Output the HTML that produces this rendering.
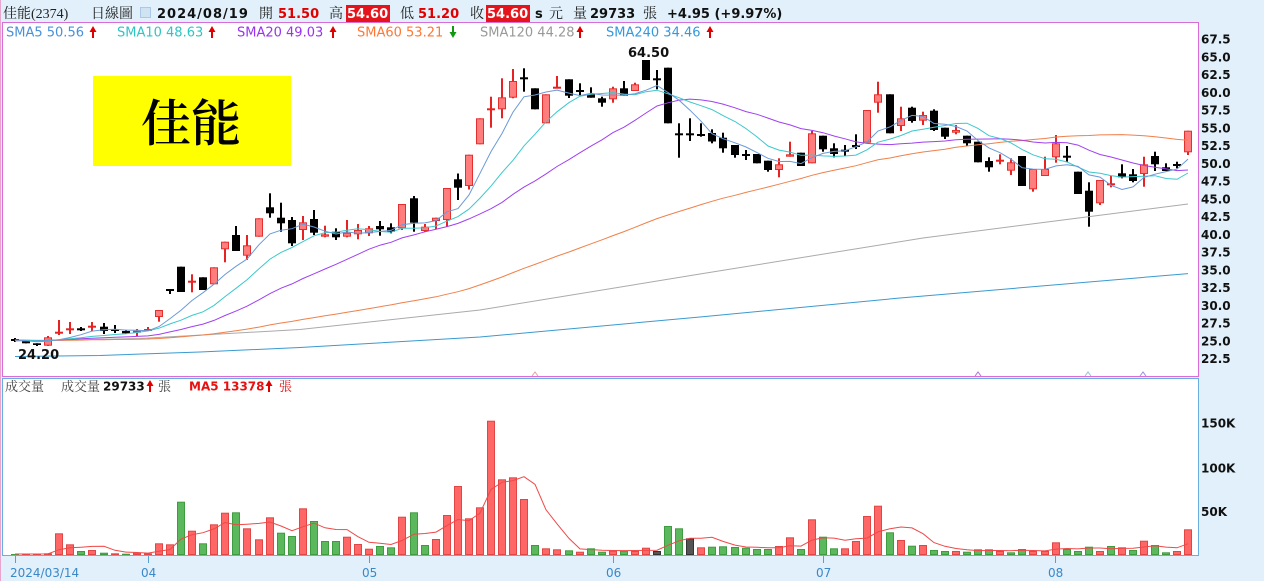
<!DOCTYPE html>
<html><head><meta charset="utf-8">
<style>
html,body{margin:0;padding:0;}
body{width:1264px;height:586px;overflow:hidden;background:#e1f0fa;position:relative;}
svg{position:absolute;left:0;top:0;}
.b{font-family:"DejaVu Sans","Liberation Sans",sans-serif;font-weight:bold;}
.n{font-family:"DejaVu Sans","Liberation Sans",sans-serif;}
.cj{font-family:"Liberation Serif","Noto Serif CJK SC",serif;}
</style></head><body>
<svg width="1264" height="586" xmlns="http://www.w3.org/2000/svg">
<rect x="0" y="0" width="1264" height="586" fill="#e1f0fa"/>
<rect x="0" y="581" width="1264" height="5" fill="#ffffff"/>
<line x1="0.5" y1="0" x2="0.5" y2="581" stroke="#e8a6cf" stroke-width="1"/>
<rect x="2" y="22" width="1197" height="355" fill="#ffffff"/>
<rect x="2" y="378" width="1197" height="178" fill="#ffffff"/>

<!-- yellow name box -->
<rect x="93" y="76" width="198" height="90" fill="#ffff00"/>
<text class="cj" x="191" y="141" font-size="50" font-weight="600" text-anchor="middle" fill="#000">佳能</text>

<g id="g"></g>

<rect x="2.5" y="22.5" width="1196" height="354" fill="none" stroke="#d86cd8" stroke-width="1"/>
<rect x="2.5" y="378.5" width="1196" height="177" fill="none" stroke="#6aaee0" stroke-width="1"/>

<!-- small markers on main bottom -->
<polyline points="532,376 535,372 538,376" fill="none" stroke="#e8a0a0" stroke-width="1"/>
<polyline points="975,376 978,372 981,376" fill="none" stroke="#b070e0" stroke-width="1"/>
<polyline points="1085,376 1088,372 1091,376" fill="none" stroke="#90c0e0" stroke-width="1"/>
<polyline points="1140,376 1143,372 1146,376" fill="none" stroke="#9a90e0" stroke-width="1"/>

<!-- header -->
<text class="cj" x="3" y="18" font-size="14" fill="#222">佳能(2374)</text>
<text class="cj" x="91" y="18" font-size="14" fill="#222">日線圖</text>
<rect x="140.5" y="7.5" width="10" height="10" fill="#cfe3f3" stroke="#a9c9e6"/>
<text class="b" x="157" y="18" font-size="13" letter-spacing="1" fill="#111">2024/08/19</text>
<text class="cj" x="259" y="18" font-size="14" fill="#222">開</text>
<text class="b" x="278" y="18" font-size="13" fill="#e00000">51.50</text>
<text class="cj" x="329" y="18" font-size="14" fill="#222">高</text>
<rect x="346" y="5" width="44" height="17" fill="#e5141c"/>
<text class="b" x="347" y="18" font-size="13" fill="#ffffff">54.60</text>
<text class="cj" x="400" y="18" font-size="14" fill="#222">低</text>
<text class="b" x="418" y="18" font-size="13" fill="#e00000">51.20</text>
<text class="cj" x="470" y="18" font-size="14" fill="#222">收</text>
<rect x="486" y="5" width="44" height="17" fill="#e5141c"/>
<text class="b" x="487" y="18" font-size="13" fill="#ffffff">54.60</text>
<text class="b" x="535" y="18" font-size="13" fill="#111">s</text>
<text class="cj" x="549" y="18" font-size="14" fill="#222">元</text>
<text class="cj" x="573" y="18" font-size="14" fill="#222">量</text>
<text class="b" x="590" y="18" font-size="13" fill="#111">29733</text>
<text class="cj" x="643" y="18" font-size="14" fill="#222">張</text>
<text class="b" x="667" y="18" font-size="13" fill="#111">+4.95 (+9.97%)</text>

<!-- legend -->
<text class="n" x="6" y="36.5" font-size="13" fill="#4a90d9">SMA5 50.56</text>
<text class="n" x="117" y="36.5" font-size="13" fill="#2fc4c4">SMA10 48.63</text>
<text class="n" x="237" y="36.5" font-size="13" fill="#9933ee">SMA20 49.03</text>
<text class="n" x="357" y="36.5" font-size="13" fill="#ff7733">SMA60 53.21</text>
<text class="n" x="480" y="36.5" font-size="13" fill="#999999">SMA120 44.28</text>
<text class="n" x="606" y="36.5" font-size="13" fill="#3399dd">SMA240 34.46</text>
<g id="arrows"></g>

<!-- price labels -->
<text class="b" x="628" y="57" font-size="13" fill="#111">64.50</text>
<text class="b" x="18" y="359" font-size="13" fill="#111">24.20</text>

<!-- y axis -->
<g class="b" font-size="12" fill="#111">
<text x="1201" y="43.5">67.5</text>
<text x="1201" y="61.3">65.0</text>
<text x="1201" y="79">62.5</text>
<text x="1201" y="96.8">60.0</text>
<text x="1201" y="114.5">57.5</text>
<text x="1201" y="132.3">55.0</text>
<text x="1201" y="150">52.5</text>
<text x="1201" y="167.8">50.0</text>
<text x="1201" y="185.5">47.5</text>
<text x="1201" y="203.3">45.0</text>
<text x="1201" y="221">42.5</text>
<text x="1201" y="238.8">40.0</text>
<text x="1201" y="256.5">37.5</text>
<text x="1201" y="274.3">35.0</text>
<text x="1201" y="292">32.5</text>
<text x="1201" y="309.8">30.0</text>
<text x="1201" y="327.5">27.5</text>
<text x="1201" y="345.3">25.0</text>
<text x="1201" y="363">22.5</text>
<text x="1201" y="427.5">150K</text>
<text x="1201" y="472.5">100K</text>
<text x="1201" y="516">50K</text>
</g>

<!-- volume legend -->
<text class="cj" x="5" y="391" font-size="13" fill="#444">成交量</text>
<text class="cj" x="61" y="391" font-size="13" fill="#444">成交量</text>
<text class="b" x="103" y="390.5" font-size="12" fill="#111">29733</text>
<text class="cj" x="158" y="391" font-size="13" fill="#444">張</text>
<text class="b" x="189" y="390.5" font-size="12" fill="#e81010">MA5 13378</text>
<text class="cj" x="279" y="391" font-size="13" fill="#e81010">張</text>

<!-- date axis -->
<g stroke="#5a9fd4" stroke-width="1">
<line x1="15.5" y1="556" x2="15.5" y2="563"/>
<line x1="148.5" y1="556" x2="148.5" y2="563"/>
<line x1="369.5" y1="556" x2="369.5" y2="563"/>
<line x1="613.5" y1="556" x2="613.5" y2="563"/>
<line x1="823.5" y1="556" x2="823.5" y2="563"/>
<line x1="1055.5" y1="556" x2="1055.5" y2="563"/>
</g>
<g class="n" font-size="12" fill="#3a88c8">
<text x="10" y="577">2024/03/14</text>
<text x="141" y="577">04</text>
<text x="362" y="577">05</text>
<text x="606" y="577">06</text>
<text x="816" y="577">07</text>
<text x="1048" y="577">08</text>
</g>
</svg>
<script>
(function(){
var NS='http://www.w3.org/2000/svg', G=document.getElementById('g'), A=document.getElementById('arrows');
function el(t,a,p){var e=document.createElementNS(NS,t);for(var k in a)e.setAttribute(k,a[k]);(p||G).appendChild(e);return e;}
function X(i){return Math.round(15+i*11.07);}
var D=[
['k',340,340,338,342],['k',340.7,343.3,340.7,343.3],['k',343.3,345,343.3,346],['r',337.3,345.7,336,346],['r',332.7,332.7,320,335],
['r',329.3,329.3,322,334],['k',329.3,329.3,327,331],['r',326.7,326.7,322,331],['k',326.7,331,323,334],['k',330,330,325,333],
['k',331,333.3,330,334],['r',330.7,332.7,329,336],['r',329,331,327,331],['r',310,317,310,321.7],['k',290,290,290,294],
['k',266.7,292,266.7,292],['r',281.7,281.7,274.3,292.3],['k',277.3,290,277.3,290],['r',267.3,284.3,267.3,284.3],['r',241.7,249.3,241.7,262.3],
['k',235,251,226,251],['r',245.3,255.7,235,260],['r',218.3,236.7,218.3,236.7],['k',207.3,213.3,193.3,217.7],['k',217.7,223.3,202.7,231.7],
['k',220,243.3,217,246],['r',222.3,230,216,240],['k',219,232.7,210,235],['r',234.3,236.7,225.7,237.3],['k',231.7,237.3,228.3,240],
['r',232.7,236.7,220,237.3],['r',230,234.3,224,239.3],['r',228.3,233.3,226,236],['k',226,229.3,221,235.7],['k',227.3,231.7,223.3,233.3],
['r',204,228.3,204,230],['k',198.3,222.7,196,231.7],['r',226.7,231,224,232],['r',217.7,221,217.7,229.3],['r',188,220,188,226.7],
['k',179.3,187.7,173.5,200],['r',154.7,186,154.7,189.5],['r',118.3,144.3,118.3,144.3],['r',109.3,109.3,96.7,127.7],['r',97.3,109.3,78.3,118.3],
['r',81,97.7,69,98.3],['k',78.3,78.3,68.3,91.7],['k',88.3,109.3,88.3,109.3],['r',94.3,123.3,94.3,123.3],['r',87.7,87.7,76,87.7],
['k',79.3,95.7,79.3,98],['k',91,91,83.3,95.7],['k',94.3,97.7,87.3,97.7],['k',98.3,102.7,96.7,106.7],['r',88.3,99.3,86.7,102.7],
['k',88.3,95.7,81,95.7],['r',84.3,91,82.7,91],['k',60,80,60,80],['k',79.3,79.3,70,89.3],['k',67.7,123.3,67.7,123.3],
['k',134.3,134.3,123.3,157.7],['k',134.3,134.3,118.3,141],['k',135,135,123.3,136.7],['k',133,141.5,129.3,143.3],['k',137.7,148.3,132.7,152.7],
['k',145,155,145,157.7],['k',155,155,150,160],['k',154,163.3,154,163.3],['k',160.7,170,160.7,171.7],['r',164.3,170,158.3,177.3],
['r',154.3,156.7,141.7,156.7],['k',152.7,166,152.7,166],['r',133.3,163.3,131,163.3],['k',135.7,149.3,135.7,151.7],['k',148.3,154,143.3,157.3],
['k',150.7,150.7,145,156],['k',146,146,134.3,149],['r',110,142.7,110,142.7],['r',94.3,102.7,81.7,112.7],['k',94.3,133.3,94.3,133.3],
['r',118.3,126,106.7,131],['k',107.7,121,106.7,122.7],['r',115,120.7,111.7,125],['k',110.7,130,109.3,131],['k',127.7,136.7,127.7,139],
['r',130,132.7,125,134.3],['k',135.7,143.3,135.7,146],['k',141.7,162.3,141.7,162.3],['k',161,167.3,157.3,171.7],['r',160.7,160.7,154.3,164.3],
['r',162.3,170.7,158.3,175],['k',156,186,156,186],['r',169,189.3,169,191.7],['r',169,176,156.7,176],['r',143.3,157.3,135,162.7],
['k',156.7,156.7,146,161.7],['k',171.7,194,171.7,194],['k',190.7,211.7,182.3,226.7],['r',180,203.3,180,205],['r',184.3,184.3,176,187.3],
['k',173.3,177.3,164.3,178.3],['k',174.3,181,169,182.3],['r',164.3,174,156.7,186.7],['k',156,164.3,151.7,171],['k',167.3,171,163.3,171],
['k',165,165,161.7,168.3],['r',130.7,152.3,130.7,155]
];
var VT=[554,554,554,553.3,533.3,544.3,551,550,552.7,553.3,
553.7,552.7,553.3,543.3,544.3,501.7,530.7,543.3,524.3,512.7,
512.3,528.3,539.3,517.3,532.7,536,508.3,521,541,541,
536.7,544,548.7,546,547.3,516.7,512.3,545,539,515,
486,518.3,507.3,420.7,479.3,477.3,499,545,548.3,549.3,
550.3,551.7,548.3,551.7,550.7,550.7,551,547.7,551,526,
528.3,538.3,547.3,546.7,546.3,547,547.7,549,549,546,
537.3,549,519.3,536.7,548.3,548.3,541,516,505.7,532.3,
540,545.7,545,550,551,551,551.7,549.3,549.3,551,
552.3,549,551,551,542.3,549,551,546.7,551,546,
547.3,550,540.7,545,552.3,551,529.3];
var VC="grrrrrgrgr"+"grrrrgrgrr"+"grrrggrggg"+"rrrggrggrr"+"rrrrrrrgrr"+"grggrgrrdg"+"gdrggggggr"+"rgrggrrrrg"+"rgrggrgggr"+"ggrrrgggrg"+"rgrggrr";
var i,k,s,x;
// volume bars
for(i=0;i<VT.length;i++){x=X(i);var c=VC.charAt(i);
 var f=c=='r'?'#ff6666':(c=='g'?'#5cb85c':'#555555'), st=c=='r'?'#e04646':(c=='g'?'#3f9b3f':'#333333');
 var h=Math.max(555-VT[i]-1,0.6);
 el('rect',{x:x-3.5,y:VT[i]+0.5,width:7,height:h,fill:f,stroke:st,'stroke-width':1});}
// volume MA5
var pts=[];
for(i=0;i<VT.length;i++){s=0;for(k=i-4;k<=i;k++)s+=(k<0?2:(556-VT[k]));pts.push(X(i)+','+(556-s/5).toFixed(1));}
el('polyline',{points:pts.join(' '),fill:'none',stroke:'#f04848','stroke-width':1});
// candles
var cl=[];
for(i=0;i<D.length;i++){var d=D[i];x=X(i);var col=d[0]=='r'?'#e62222':'#000000';
 cl.push(d[0]=='r'?d[1]:d[2]);
 if(d[4]-d[3]>0.3) el('rect',{x:x-1,y:d[3],width:2,height:d[4]-d[3],fill:col});
 if(d[2]-d[1]<1.5){ el('rect',{x:x-4,y:d[1]-1,width:8,height:2,fill:col}); }
 else if(d[0]=='r'){ el('rect',{x:x-3.5,y:d[1]+0.5,width:7,height:d[2]-d[1]-1,fill:'#ff7d7d',stroke:'#e52e2e','stroke-width':1}); }
 else { el('rect',{x:x-4,y:d[1],width:8,height:d[2]-d[1],fill:'#000'}); }
}
function poly(p,col){el('polyline',{points:p.map(function(q){return q[0]+','+q[1];}).join(' '),fill:'none',stroke:col,'stroke-width':1});}
poly([[15,356.5],[100,355.5],[200,352],[300,347.5],[480,337],[700,317],[900,298],[1188,273.6]],'#3a9ad0');
poly([[15,341],[140,338.5],[300,329.5],[480,310],[700,274],[923,238],[1055,221],[1188,204]],'#aaaaaa');
function sma(n,pre){var out=[];for(var j=0;j<cl.length;j++){var t=0;for(var m=j-n+1;m<=j;m++)t+=(m<0?pre:cl[m]);out.push([X(j),(t/n).toFixed(1)]);}return out;}
poly(sma(60,340.5),'#f0804a');
poly(sma(20,340),'#a040f0');
poly(sma(10,340),'#3cc8cc');
poly(sma(5,340),'#6a9ad8');
// legend arrows
function up(x,y,c,p){el('line',{x1:x,y1:y-4,x2:x,y2:y+6,stroke:c,'stroke-width':2},p);el('polygon',{points:(x-3.5)+','+(y)+' '+x+','+(y-6)+' '+(x+3.5)+','+y,fill:c},p);}
function dn(x,y,c,p){el('line',{x1:x,y1:y-6,x2:x,y2:y+4,stroke:c,'stroke-width':2},p);el('polygon',{points:(x-3.5)+','+(y)+' '+x+','+(y+6)+' '+(x+3.5)+','+y,fill:c},p);}
up(93,32,'#e00000',A);up(212,32,'#e00000',A);up(333,32,'#e00000',A);dn(453,32,'#119911',A);up(580,32,'#e00000',A);up(710,32,'#e00000',A);
up(150,386,'#e00000',A);up(269,386,'#e00000',A);
})();
</script>
</body></html>
